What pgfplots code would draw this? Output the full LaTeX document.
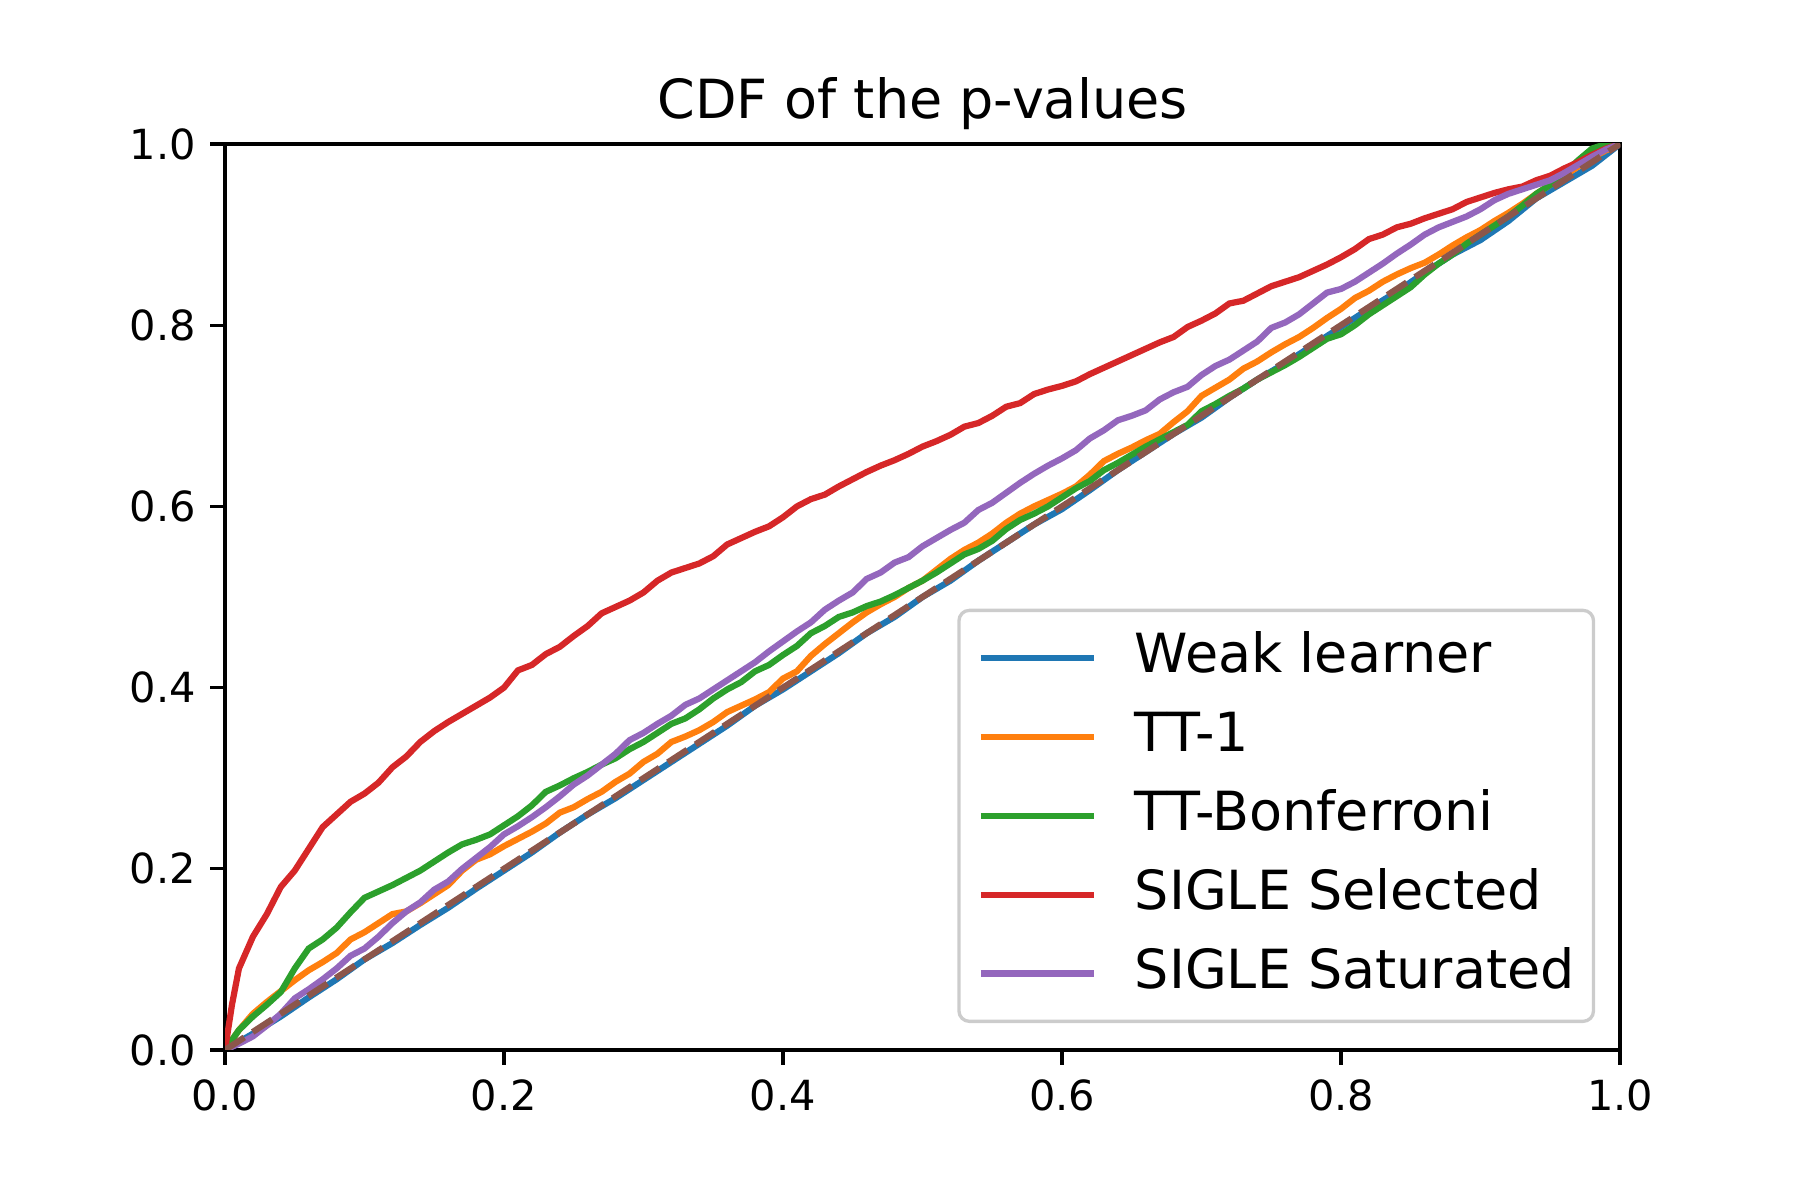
\documentclass[border=0pt]{standalone}
\usepackage{fontspec}
\setmainfont{DejaVu Sans}
\usepackage{pgfplots}
\pgfplotsset{compat=1.18}
\definecolor{cblue}{HTML}{1F77B4}
\definecolor{corange}{HTML}{FF7F0E}
\definecolor{cgreen}{HTML}{2CA02C}
\definecolor{cred}{HTML}{D62728}
\definecolor{cpurple}{HTML}{9467BD}
\definecolor{cbrown}{HTML}{8C564B}
\definecolor{frame}{gray}{0.8}

\begin{document}
\begin{tikzpicture}
\path[use as bounding box] (-0.75in,-0.5in) rectangle (5.25in,3.5in);
\begin{axis}[
  at={(0,0)}, anchor=south west,
  scale only axis, width=4.65in, height=3.02in,
  xmin=0, xmax=1, ymin=0, ymax=1,
  xtick={0,0.2,0.4,0.6,0.8,1}, ytick={0,0.2,0.4,0.6,0.8,1},
  tick align=outside, tick pos=left, major tick length=3.5pt,
  every tick/.style={black, line width=0.8pt},
  axis line style={line width=0.8pt},
  /pgf/number format/assume math mode=true,
  /pgf/number format/.cd, fixed, precision=1, fixed zerofill, /pgfplots/.cd,
  ticklabel style={font=\fontsize{10}{12}\selectfont},
  title={CDF of the p-values},
  title style={at={(0.5,1)}, anchor=base, yshift=0.2pt, font=\fontsize{13}{15}\selectfont},
  legend cell align=left,
  legend image code/.code={\draw[mark repeat=2,mark phase=2, line width=1.5pt] plot coordinates {(0pt,0pt) (27.4pt,0pt)};},
  legend style={at={(0.9822,0.0298)}, anchor=south east, draw=frame, line width=0.8pt,
    rounded corners=2.5pt, fill=white, fill opacity=0.8, text opacity=1,
    font=\fontsize{13}{16}\selectfont, inner xsep=4.5pt, inner ysep=5pt, row sep=6pt,
    nodes={inner sep=0pt, text height=10pt, text depth=3pt},
    /tikz/every odd column/.append style={column sep=9pt}},
  every axis plot/.append style={line width=1.5pt},
]
% Weak learner
\addplot[cblue] coordinates {(0,0)(0.02,0.018)(0.04,0.037)(0.06,0.058)(0.08,0.078)(0.1,0.1)(0.12,0.118)(0.14,0.138)(0.16,0.157)(0.18,0.178)(0.2,0.198)(0.22,0.218)(0.24,0.24)(0.26,0.26)(0.28,0.278)(0.3,0.298)(0.32,0.318)(0.34,0.338)(0.36,0.358)(0.38,0.38)(0.4,0.398)(0.42,0.418)(0.44,0.438)(0.46,0.46)(0.48,0.478)(0.5,0.5)(0.52,0.518)(0.54,0.54)(0.56,0.56)(0.58,0.58)(0.6,0.597)(0.62,0.618)(0.64,0.64)(0.66,0.66)(0.68,0.68)(0.7,0.698)(0.72,0.72)(0.74,0.74)(0.76,0.758)(0.78,0.778)(0.8,0.798)(0.82,0.818)(0.84,0.837)(0.86,0.858)(0.88,0.878)(0.9,0.894)(0.92,0.915)(0.94,0.94)(0.96,0.958)(0.98,0.976)(1,1)};
% TT-1
\addplot[corange] coordinates {(0,0)(0.01,0.022)(0.02,0.04)(0.03,0.053)(0.04,0.065)(0.05,0.077)(0.06,0.088)(0.07,0.097)(0.08,0.107)(0.09,0.122)(0.1,0.13)(0.11,0.14)(0.12,0.15)(0.13,0.153)(0.14,0.162)(0.15,0.172)(0.16,0.182)(0.17,0.198)(0.18,0.21)(0.19,0.216)(0.2,0.225)(0.21,0.233)(0.22,0.241)(0.23,0.25)(0.24,0.262)(0.25,0.268)(0.26,0.277)(0.27,0.285)(0.28,0.296)(0.29,0.305)(0.3,0.318)(0.31,0.327)(0.32,0.34)(0.33,0.346)(0.34,0.353)(0.35,0.362)(0.36,0.373)(0.37,0.38)(0.38,0.387)(0.39,0.395)(0.4,0.41)(0.41,0.418)(0.42,0.435)(0.43,0.448)(0.44,0.46)(0.45,0.472)(0.46,0.483)(0.47,0.492)(0.48,0.5)(0.49,0.51)(0.5,0.518)(0.51,0.53)(0.52,0.542)(0.53,0.552)(0.54,0.56)(0.55,0.57)(0.56,0.582)(0.57,0.592)(0.58,0.6)(0.59,0.607)(0.6,0.614)(0.61,0.622)(0.62,0.635)(0.63,0.65)(0.64,0.658)(0.65,0.665)(0.66,0.673)(0.67,0.68)(0.68,0.693)(0.69,0.705)(0.7,0.722)(0.71,0.731)(0.72,0.74)(0.73,0.752)(0.74,0.76)(0.75,0.77)(0.76,0.779)(0.77,0.787)(0.78,0.797)(0.79,0.808)(0.8,0.818)(0.81,0.83)(0.82,0.838)(0.83,0.848)(0.84,0.856)(0.85,0.863)(0.86,0.869)(0.87,0.878)(0.88,0.888)(0.89,0.897)(0.9,0.905)(0.91,0.915)(0.92,0.924)(0.93,0.934)(0.94,0.945)(0.95,0.955)(0.96,0.965)(0.97,0.975)(0.98,0.985)(0.99,0.993)(1,1)};
% TT-Bonferroni
\addplot[cgreen] coordinates {(0,0)(0.01,0.022)(0.02,0.037)(0.03,0.05)(0.04,0.064)(0.05,0.09)(0.06,0.112)(0.07,0.122)(0.08,0.135)(0.09,0.152)(0.1,0.168)(0.11,0.175)(0.12,0.182)(0.13,0.19)(0.14,0.198)(0.15,0.208)(0.16,0.218)(0.17,0.227)(0.18,0.232)(0.19,0.238)(0.2,0.248)(0.21,0.258)(0.22,0.27)(0.23,0.285)(0.24,0.292)(0.25,0.3)(0.26,0.307)(0.27,0.315)(0.28,0.322)(0.29,0.332)(0.3,0.34)(0.31,0.35)(0.32,0.36)(0.33,0.366)(0.34,0.376)(0.35,0.388)(0.36,0.398)(0.37,0.406)(0.38,0.418)(0.39,0.425)(0.4,0.436)(0.41,0.446)(0.42,0.46)(0.43,0.468)(0.44,0.478)(0.45,0.483)(0.46,0.49)(0.47,0.495)(0.48,0.502)(0.49,0.51)(0.5,0.518)(0.51,0.527)(0.52,0.537)(0.53,0.547)(0.54,0.553)(0.55,0.562)(0.56,0.575)(0.57,0.585)(0.58,0.592)(0.59,0.6)(0.6,0.61)(0.61,0.62)(0.62,0.628)(0.63,0.64)(0.64,0.648)(0.65,0.657)(0.66,0.666)(0.67,0.674)(0.68,0.682)(0.69,0.69)(0.7,0.705)(0.71,0.713)(0.72,0.722)(0.73,0.73)(0.74,0.74)(0.75,0.748)(0.76,0.756)(0.77,0.765)(0.78,0.775)(0.79,0.785)(0.8,0.79)(0.81,0.8)(0.82,0.812)(0.83,0.822)(0.84,0.832)(0.85,0.842)(0.86,0.856)(0.87,0.868)(0.88,0.878)(0.89,0.89)(0.9,0.9)(0.91,0.91)(0.92,0.92)(0.93,0.932)(0.94,0.945)(0.95,0.955)(0.96,0.968)(0.97,0.982)(0.98,0.995)(0.99,1)(1,1)};
% SIGLE Selected
\addplot[cred] coordinates {(0,0)(0.005,0.05)(0.01,0.09)(0.02,0.125)(0.03,0.15)(0.04,0.18)(0.05,0.198)(0.06,0.222)(0.07,0.246)(0.08,0.26)(0.09,0.274)(0.1,0.283)(0.11,0.295)(0.12,0.312)(0.13,0.324)(0.14,0.34)(0.15,0.352)(0.16,0.362)(0.17,0.371)(0.18,0.38)(0.19,0.389)(0.2,0.4)(0.21,0.419)(0.22,0.425)(0.23,0.437)(0.24,0.445)(0.25,0.457)(0.26,0.468)(0.27,0.482)(0.28,0.489)(0.29,0.496)(0.3,0.505)(0.31,0.518)(0.32,0.527)(0.33,0.532)(0.34,0.537)(0.35,0.545)(0.36,0.558)(0.37,0.565)(0.38,0.572)(0.39,0.578)(0.4,0.588)(0.41,0.6)(0.42,0.608)(0.43,0.613)(0.44,0.622)(0.45,0.63)(0.46,0.638)(0.47,0.645)(0.48,0.651)(0.49,0.658)(0.5,0.666)(0.51,0.672)(0.52,0.679)(0.53,0.688)(0.54,0.692)(0.55,0.7)(0.56,0.71)(0.57,0.714)(0.58,0.724)(0.59,0.729)(0.6,0.733)(0.61,0.738)(0.62,0.746)(0.63,0.753)(0.64,0.76)(0.65,0.767)(0.66,0.774)(0.67,0.781)(0.68,0.787)(0.69,0.798)(0.7,0.805)(0.71,0.813)(0.72,0.824)(0.73,0.827)(0.74,0.835)(0.75,0.843)(0.76,0.848)(0.77,0.853)(0.78,0.86)(0.79,0.867)(0.8,0.875)(0.81,0.884)(0.82,0.895)(0.83,0.9)(0.84,0.908)(0.85,0.912)(0.86,0.918)(0.87,0.923)(0.88,0.928)(0.89,0.936)(0.9,0.941)(0.91,0.946)(0.92,0.95)(0.93,0.953)(0.94,0.96)(0.95,0.965)(0.96,0.973)(0.97,0.98)(0.98,0.988)(0.99,0.995)(1,1)};
% SIGLE Saturated
\addplot[cpurple] coordinates {(0,0)(0.01,0.007)(0.02,0.015)(0.03,0.027)(0.04,0.04)(0.05,0.057)(0.06,0.067)(0.07,0.078)(0.08,0.09)(0.09,0.104)(0.1,0.112)(0.11,0.125)(0.12,0.14)(0.13,0.153)(0.14,0.163)(0.15,0.177)(0.16,0.186)(0.17,0.2)(0.18,0.212)(0.19,0.224)(0.2,0.238)(0.21,0.247)(0.22,0.257)(0.23,0.268)(0.24,0.28)(0.25,0.293)(0.26,0.303)(0.27,0.315)(0.28,0.327)(0.29,0.342)(0.3,0.35)(0.31,0.36)(0.32,0.369)(0.33,0.381)(0.34,0.388)(0.35,0.398)(0.36,0.408)(0.37,0.418)(0.38,0.428)(0.39,0.44)(0.4,0.451)(0.41,0.462)(0.42,0.472)(0.43,0.486)(0.44,0.496)(0.45,0.505)(0.46,0.52)(0.47,0.527)(0.48,0.538)(0.49,0.544)(0.5,0.556)(0.51,0.565)(0.52,0.574)(0.53,0.582)(0.54,0.596)(0.55,0.604)(0.56,0.615)(0.57,0.626)(0.58,0.636)(0.59,0.645)(0.6,0.653)(0.61,0.662)(0.62,0.675)(0.63,0.684)(0.64,0.695)(0.65,0.7)(0.66,0.706)(0.67,0.718)(0.68,0.726)(0.69,0.732)(0.7,0.745)(0.71,0.755)(0.72,0.762)(0.73,0.772)(0.74,0.782)(0.75,0.797)(0.76,0.803)(0.77,0.812)(0.78,0.824)(0.79,0.836)(0.8,0.84)(0.81,0.848)(0.82,0.858)(0.83,0.868)(0.84,0.879)(0.85,0.889)(0.86,0.9)(0.87,0.908)(0.88,0.914)(0.89,0.92)(0.9,0.928)(0.91,0.938)(0.92,0.945)(0.93,0.95)(0.94,0.955)(0.95,0.96)(0.96,0.968)(0.97,0.977)(0.98,0.986)(0.99,0.994)(1,1)};
% uniform reference
\addplot[cbrown, dash pattern=on 5.55pt off 2.4pt, forget plot] coordinates {(0,0)(1,1)};
\legend{Weak learner, TT-1, TT-Bonferroni, SIGLE Selected, SIGLE Saturated}
\end{axis}
\end{tikzpicture}
\end{document}
